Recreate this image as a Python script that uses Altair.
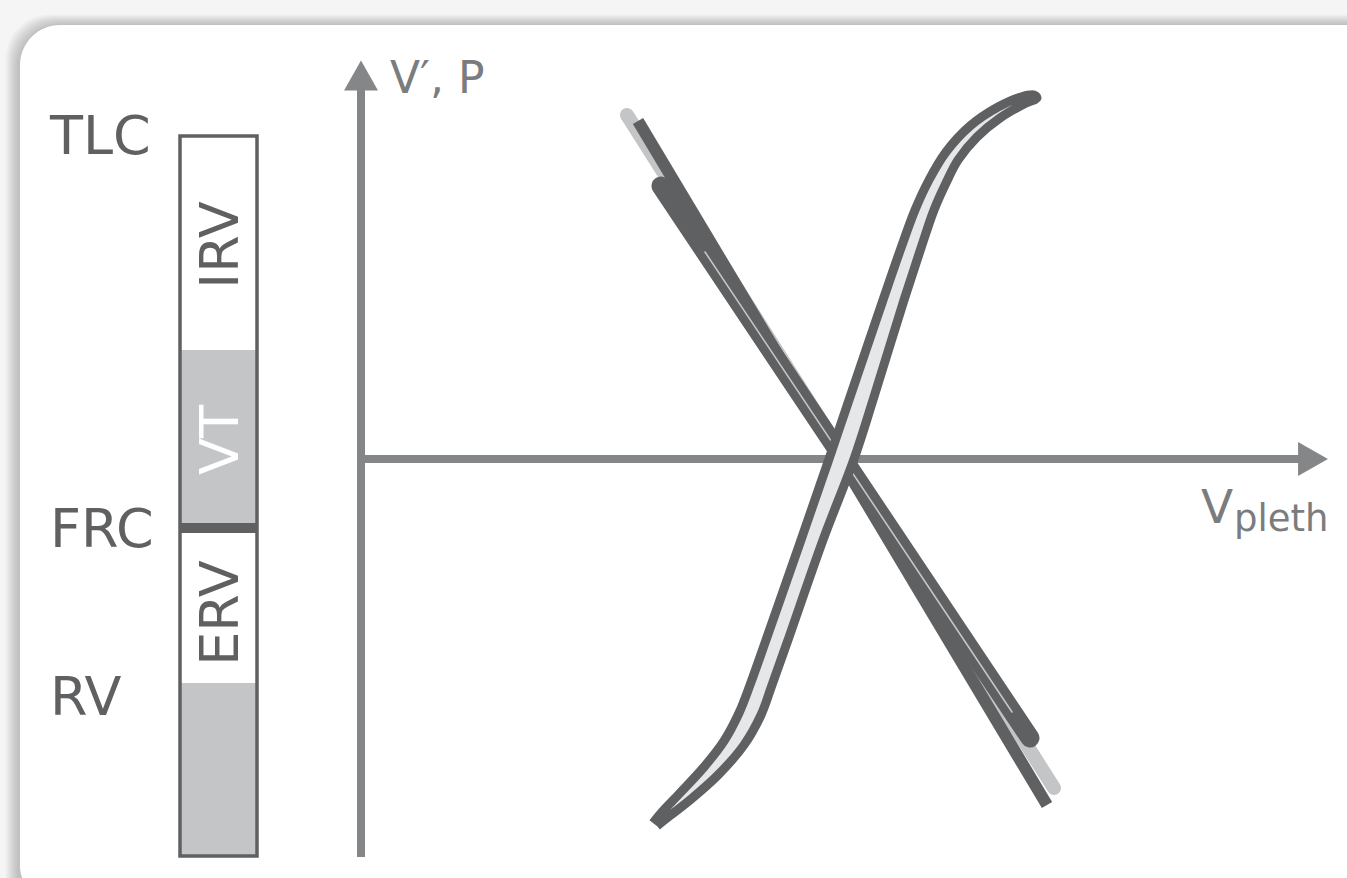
import altair as alt
import pandas as pd

W, H = 1347, 878
FONT = "DejaVu Sans"
DARK = "#5f6062"
AXIS = "#858688"
AXIS_TEXT = "#7b7c7e"
SHADE = "#c4c5c7"
LOOP_FILL = "#e6e7e8"

# ---- lung volume column ----
level_names = ["TLC", "FRC", "RV"]
level_y = [134.5, 527, 695]

segment_names = ["IRV", "VT", "ERV", "RV"]
segment_top = [136, 350, 532, 683]
segment_bottom = [350, 523, 683, 856]
segment_shaded = [False, True, False, True]

segment_label_names = ["IRV", "VT", "ERV"]
segment_label_y = [245, 440, 613]

column_x = [180, 257]
column_y = [136, 856]
frc_y = 528

# ---- axes ----
v_axis_x = 361
v_axis_y = [90, 857]
h_axis_y = 459
h_axis_x = [361, 1300]

# ---- pressure loop (S-shaped), traced round its outline ----
s_loop_x = [653, 662, 680, 704, 724, 739, 750, 766, 801, 829, 849, 883, 901, 915, 929, 946, 970, 998, 1021, 1034,
            1037, 1026, 1000, 977, 958, 946, 934, 921, 904, 873, 854, 823, 788, 772, 761, 744, 718, 690, 667, 657]
s_loop_y = [823, 812, 793, 767, 741, 713, 685, 640, 540, 459, 400, 300, 248, 210, 180, 152, 126, 107, 97, 95,
            98, 103, 118, 137, 160, 183, 210, 248, 300, 400, 459, 540, 640, 685, 715, 745, 775, 800, 818, 826]

# ---- flow branches ----
branch_light_x = [627, 1054]
branch_light_y = [115, 788]
branch_upper_x = [638, 1047]
branch_upper_y = [121, 805]
branch_lower_x = [661, 1030]
branch_lower_y = [186, 738]
branch_core_x = [705, 1012]
branch_core_y = [252, 712]

xs = alt.Scale(domain=[0, W], range=[0, W])
ys = alt.Scale(domain=[0, H], range=[0, H])


def X(f="x"):
    return alt.X(f, type="quantitative", scale=xs, axis=None)


def Y(f="y"):
    return alt.Y(f, type="quantitative", scale=ys, axis=None)


def X2(f="x2"):
    return alt.X2(f)


def Y2(f="y2"):
    return alt.Y2(f)


def path_df(xv, yv):
    return pd.DataFrame({"x": xv, "y": yv, "i": list(range(len(xv)))})


def path_layer(xv, yv, **mark):
    return alt.Chart(path_df(xv, yv)).mark_line(**mark).encode(
        x=X(), y=Y(), order=alt.Order("i:Q"))


# card with soft shadow
shadow_df = pd.DataFrame({
    "x": [20 - 1.6 * k - 1.5 for k in range(1, 9)],
    "y": [25 - 1.3 * k for k in range(1, 9)],
    "x2": [1500] * 8,
    "y2": [1000] * 8,
})
shadow = alt.Chart(shadow_df).mark_rect(cornerRadius=44, color="#000000", opacity=0.026).encode(
    x=X(), x2=X2(), y=Y(), y2=Y2())
card = alt.Chart(pd.DataFrame({"x": [20], "x2": [1500], "y": [25], "y2": [905]})).mark_rect(
    cornerRadius=40, color="#ffffff").encode(x=X(), x2=X2(), y=Y(), y2=Y2())

# column segments
seg_df = pd.DataFrame({
    "name": segment_names,
    "x": [column_x[0]] * 4,
    "x2": [column_x[1]] * 4,
    "y": segment_top,
    "y2": segment_bottom,
    "fill": [SHADE if s else "#ffffff" for s in segment_shaded],
})
segments = alt.Chart(seg_df).mark_rect().encode(
    x=X(), x2=X2(), y=Y(), y2=Y2(), color=alt.Color("fill:N", scale=None))
outline = alt.Chart(pd.DataFrame({"x": [column_x[0]], "x2": [column_x[1]],
                                  "y": [column_y[0]], "y2": [column_y[1]]})).mark_rect(
    filled=False, stroke=DARK, strokeWidth=3.5).encode(x=X(), x2=X2(), y=Y(), y2=Y2())
frc = alt.Chart(pd.DataFrame({"x": [column_x[0]], "x2": [column_x[1]], "y": [frc_y]})).mark_rule(
    color=DARK, strokeWidth=10).encode(x=X(), x2=X2(), y=Y())

level_text = alt.Chart(pd.DataFrame({"t": level_names, "x": [50] * 3,
                                     "y": [v + 19.5 for v in level_y]})).mark_text(
    font=FONT, fontSize=54, color=DARK, align="left", baseline="alphabetic").encode(
    x=X(), y=Y(), text="t:N")

seg_text_df = pd.DataFrame({"t": segment_label_names, "x": [238] * 3, "y": segment_label_y,
                            "c": [DARK, "#ffffff", DARK]})
seg_text = alt.Chart(seg_text_df).mark_text(
    font=FONT, fontSize=54, angle=270, align="center", baseline="alphabetic").encode(
    x=X(), y=Y(), text="t:N", color=alt.Color("c:N", scale=None))

# axes
v_axis = alt.Chart(pd.DataFrame({"x": [v_axis_x], "y": [v_axis_y[0]], "y2": [v_axis_y[1]]})).mark_rule(
    color=AXIS, strokeWidth=8).encode(x=X(), y=Y(), y2=Y2())
h_axis = alt.Chart(pd.DataFrame({"x": [h_axis_x[0]], "x2": [h_axis_x[1]], "y": [h_axis_y]})).mark_rule(
    color=AXIS, strokeWidth=8).encode(x=X(), x2=X2(), y=Y())
up_head = alt.Chart(pd.DataFrame({"x": [v_axis_x], "y": [75.5]})).mark_point(
    shape="M-1,0.88L0,-0.88L1,0.88Z", size=1156, filled=True, color=AXIS, opacity=1, strokeWidth=0).encode(
    x=X(), y=Y())
right_head = alt.Chart(pd.DataFrame({"x": [1313], "y": [h_axis_y]})).mark_point(
    shape="M-0.88,-1L0.88,0L-0.88,1Z", size=1156, filled=True, color=AXIS, opacity=1, strokeWidth=0).encode(
    x=X(), y=Y())

axis_text = alt.Chart(pd.DataFrame({"t": ["V\u2032, P", "V", "pleth"], "x": [390, 1201, 1234],
                                    "y": [93, 523, 531], "s": [44, 47, 37]})).mark_text(
    font=FONT, color=AXIS_TEXT, align="left", baseline="alphabetic").encode(
    x=X(), y=Y(), text="t:N", size=alt.Size("s:Q", scale=None))

# flow branches
light_branch = path_layer(branch_light_x, branch_light_y, color=SHADE, strokeWidth=14, strokeCap="round")
upper_branch = path_layer(branch_upper_x, branch_upper_y, color=DARK, strokeWidth=12, strokeCap="butt")
lower_branch = path_layer(branch_lower_x, branch_lower_y, color=DARK, strokeWidth=19, strokeCap="round")
core_branch = path_layer(branch_core_x, branch_core_y, color=SHADE, strokeWidth=1.6, strokeCap="round")

# pressure loop
s_loop = path_layer(s_loop_x, s_loop_y, fill=LOOP_FILL, stroke=DARK, strokeWidth=9, strokeJoin="round",
                    interpolate="catmull-rom")

chart = alt.layer(
    shadow, card, segments, outline, frc, level_text, seg_text,
    v_axis, h_axis, up_head, right_head,
    light_branch, upper_branch, lower_branch, core_branch, s_loop,
    axis_text,
).properties(
    width=W, height=H, autosize=alt.AutoSizeParams(type="none"), padding=0,
    background="#f5f5f5",
).configure_view(stroke=None)

chart.save("out.html", embed_options={"renderer": "svg", "actions": False})
